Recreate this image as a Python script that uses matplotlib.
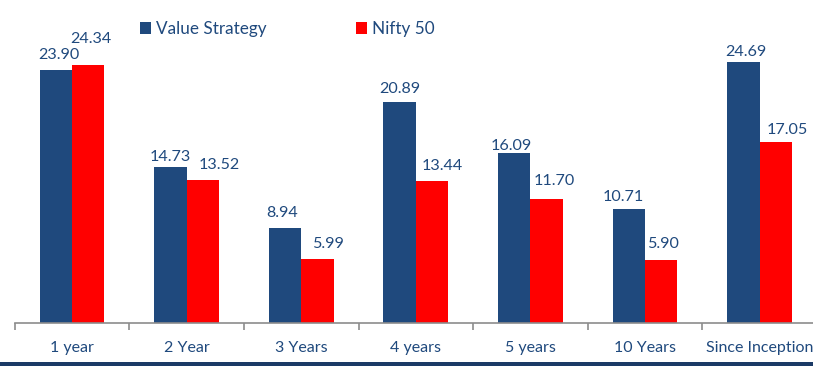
import matplotlib
matplotlib.use("Agg")
import matplotlib.pyplot as plt
import numpy as np
from matplotlib.patches import Rectangle

# data
periods = ["1 year", "2 Year", "3 Years", "4 years", "5 years", "10 Years", "Since Inception"]
value_strategy = [23.90, 14.73, 8.94, 20.89, 16.09, 10.71, 24.69]
nifty_50 = [24.34, 13.52, 5.99, 13.44, 11.70, 5.90, 17.05]

# label nudges (pixels): horizontal shift, gap from bar top to text baseline
vs_dx = [3, 0, -3, 0, -3, -5, 2]
vs_gap = [11, 6, 11, 9, 3, 8, 6]
nf_dx = [3, 16, 11, 10, 8, 2, 11]
nf_gap = [22, 11, 11, 11, 14, 12, 8]

BLUE = "#1F497D"
RED = "#FF0000"
TXT = "#1F497D"

plt.rcParams["font.family"] = ["Lato", "DejaVu Sans"]

W, H = 813, 366
fig = plt.figure(figsize=(W / 100, H / 100), dpi=100)

# axes placed in pixel terms (chart is clipped on the right like the original)
left_px, bottom_px, unit_px = 14.7, 322.7, 114.6
ax = fig.add_axes([left_px / W, (H - bottom_px) / H, 7 * unit_px / W, 30 * 10.57 / H])

x = np.arange(len(periods))
bw = 0.283
b1 = ax.bar(x - bw / 2, value_strategy, bw, color=BLUE, label="Value Strategy")
b2 = ax.bar(x + bw / 2, nifty_50, bw, color=RED, label="Nifty 50")

px2pt = 0.72
for bars, vals, dxs, gaps in ((b1, value_strategy, vs_dx, vs_gap),
                              (b2, nifty_50, nf_dx, nf_gap)):
    for r, v, dx, g in zip(bars, vals, dxs, gaps):
        ax.annotate(f"{v:.2f}", (r.get_x() + r.get_width() / 2, v),
                    xytext=(dx * px2pt, g * px2pt), textcoords="offset points",
                    ha="center", va="baseline", fontsize=11.6, color=TXT)

ax.set_xlim(-0.5, 6.5)
ax.set_ylim(0, 30)

for s in ("top", "right", "left"):
    ax.spines[s].set_visible(False)
ax.spines["bottom"].set_color("#8C8C8C")
ax.spines["bottom"].set_linewidth(1.2)
ax.set_yticks([])

ax.set_xticks(x)
ax.set_xticklabels(periods, fontsize=11.5, color=TXT)
ax.tick_params(axis="x", which="major", length=0, pad=13)
ax.set_xticks(np.arange(-0.5, 7, 1), minor=True)
ax.tick_params(axis="x", which="minor", length=5, width=1.2, color="#8C8C8C", direction="out")

leg = ax.legend(ncol=2, loc="upper left", bbox_to_anchor=(140 / W, 1 - 21 / H),
                bbox_transform=fig.transFigure, frameon=False, fontsize=12.3,
                handlelength=0.65, handleheight=0.65, handletextpad=0.3,
                columnspacing=5.2, borderaxespad=0, borderpad=0)
for t in leg.get_texts():
    t.set_color(TXT)

# dark band along the bottom edge
fig.add_artist(Rectangle((0, 0), 1, 3.6 / H, transform=fig.transFigure,
                         color="#1B3A66", lw=0))

fig.savefig("out.png", dpi=100)
